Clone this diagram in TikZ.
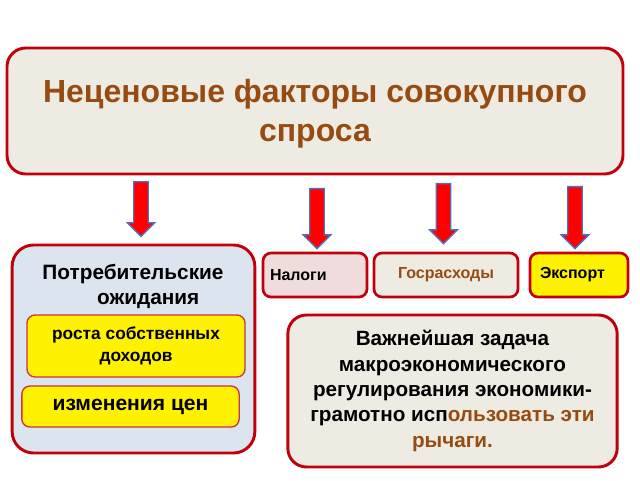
\documentclass[tikz,border=0pt]{standalone}
\usepackage{fontspec}
\setmainfont{Liberation Sans}
\usepackage{xcolor}
\usetikzlibrary{shapes.arrows}
\definecolor{frame}{HTML}{C0000A}
\definecolor{brn}{HTML}{964B12}
\definecolor{cream}{HTML}{EEEBE3}
\definecolor{paleblue}{HTML}{DCE4EF}
\definecolor{palepink}{HTML}{EFDCDC}
\definecolor{arrowblue}{HTML}{4F6FC0}
\tikzset{
  box/.style={draw=frame, line width=2.2pt, rounded corners=14pt, fill=cream},
  smallbox/.style={draw=frame, line width=2pt, rounded corners=6pt, font=\fontsize{12}{14}\selectfont\bfseries},
  yellowbox/.style={draw=frame!80, line width=1pt, fill=yellow, rounded corners=6pt},
  bigarrow/.style={single arrow, rotate=-90, fill=red, draw=arrowblue, line width=1pt,
    inner xsep=0pt, inner ysep=4.9pt, single arrow head extend=4.9pt}
}
\begin{document}
\begin{tikzpicture}[x=0.75pt,y=-0.75pt]
  \useasboundingbox (0,0) rectangle (640,480);
  \node[box, minimum width=462pt, minimum height=94.5pt] (top) at (315,111) {};
  \node[text=brn, align=center, font=\fontsize{24}{29}\selectfont\bfseries] (toptext) at (315,113.5)
    {Неценовые факторы совокупного\\спроса};

  \node[box, fill=paleblue, rounded corners=16pt, minimum width=182pt, minimum height=156pt] (expect) at (133.5,349) {};
  \node[align=left, font=\fontsize{15.6}{18.75}\selectfont\bfseries] (expecttitle) at (133,286)
    {Потребительские\\\hspace*{41pt}ожидания};
  \node[yellowbox, minimum width=163.5pt, minimum height=46.5pt, align=center,
    font=\fontsize{13}{17}\selectfont\bfseries] (income) at (136,346)
    {роста собственных\\доходов};
  \node[yellowbox, minimum width=163pt, minimum height=30.75pt,
    font=\fontsize{15.8}{18}\selectfont\bfseries] (prices) at (130.5,406.5) {изменения цен};

  \node[smallbox, fill=palepink, minimum width=78pt, minimum height=33pt, text width=67.5pt, align=left] (tax) at (315,275) {Налоги};
  \node[smallbox, fill=cream, minimum width=108pt, minimum height=33pt, text=brn] (spend) at (446,275) {Госрасходы};
  \node[smallbox, fill=yellow, minimum width=73.5pt, minimum height=33pt, text width=58.5pt, align=left] (export) at (579,275) {Экспорт};

  \node[box, minimum width=247pt, minimum height=114pt, align=center,
    font=\fontsize{15.5}{19}\selectfont\bfseries] (task) at (452.5,391)
    {Важнейшая задача\\макроэкономического\\регулирования экономики-\\грамотно исп\textcolor{brn}{ользовать эти}\\\textcolor{brn}{рычаги.}};

  \node[bigarrow, minimum height=41pt] (ar1) at (141,205.5) {};
  \node[bigarrow, minimum height=45pt] (ar2) at (317,215) {};
  \node[bigarrow, minimum height=45pt] (ar3) at (443.5,210) {};
  \node[bigarrow, minimum height=46.5pt] (ar4) at (575,214) {};
\end{tikzpicture}
\end{document}
